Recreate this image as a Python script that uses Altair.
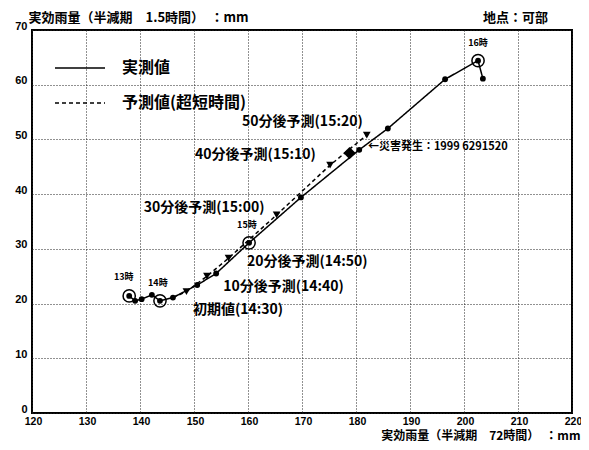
import altair as alt
import pandas as pd

# ---- data ----
actual_x = [138.0, 139.1, 140.3, 142.2, 143.7, 146.1, 150.6, 154.1, 160.2, 169.8, 180.6, 185.9, 196.5, 202.6, 203.5]
actual_y = [21.4, 20.5, 20.8, 21.6, 20.5, 21.1, 23.4, 25.5, 31.1, 39.4, 48.1, 52.0, 61.0, 64.4, 61.1]

pred_x = [146.1, 148.6, 152.4, 156.4, 165.3, 175.2, 182.0]
pred_y = [21.1, 22.2, 25.0, 28.3, 36.2, 45.3, 50.8]

diamond_x = [178.8]
diamond_y = [47.5]

hour_labels = ["13時", "14時", "15時", "16時"]
hour_x = [138.0, 143.7, 160.2, 202.6]
hour_y = [21.4, 20.5, 31.1, 64.4]
hour_label_x = [137.0, 143.3, 159.8, 202.6]
hour_label_y = [24.9, 23.7, 34.4, 67.6]

ann_labels = ["初期値(14:30)", "10分後予測(14:40)", "20分後予測(14:50)", "30分後予測(15:00)",
              "40分後予測(15:10)", "50分後予測(15:20)"]
ann_x = [149.8, 155.4, 159.8, 140.7, 150.2, 158.9]
ann_y = [18.8, 23.0, 27.6, 37.5, 47.2, 53.2]

event_label = ["←災害発生：1999  6291520"]
event_x = [182.2]
event_y = [48.7]

series_names = ["実測値", "予測値(超短時間)"]
x_ticks = list(range(120, 221, 10))
y_ticks = list(range(0, 71, 10))

FONT = "Noto Sans CJK JP"

# ---- tables ----
lines_df = pd.concat([
    pd.DataFrame({"x": actual_x, "y": actual_y, "series": series_names[0], "order": range(len(actual_x))}),
    pd.DataFrame({"x": pred_x, "y": pred_y, "series": series_names[1], "order": range(len(pred_x))}),
])
dots_df = pd.DataFrame({"x": actual_x, "y": actual_y})
tri_df = pd.DataFrame({"x": pred_x[1:], "y": pred_y[1:]})
dia_df = pd.DataFrame({"x": diamond_x, "y": diamond_y})
hour_df = pd.DataFrame({"x": hour_x, "y": hour_y})
hour_lab_df = pd.DataFrame({"x": hour_label_x, "y": hour_label_y, "t": hour_labels})
ann_df = pd.DataFrame({"x": ann_x, "y": ann_y, "t": ann_labels})
ev_df = pd.DataFrame({"x": event_x, "y": event_y, "t": event_label})

xscale = alt.Scale(domain=[120, 220], nice=False, zero=False)
yscale = alt.Scale(domain=[0, 70], nice=False)

X = alt.X("x:Q", scale=xscale, axis=alt.Axis(
    values=x_ticks, grid=True, gridDash=[1, 2], gridColor="#222", gridWidth=1,
    tickSize=0, domain=False, labelPadding=3, labelFontSize=10.5, labelFontWeight="bold",
    labelFont="Liberation Sans", labelColor="black", labelFlush=False, labelOverlap=False,
    labelOffset=1,
    title="実効雨量（半減期　72時間）　：mm", titleFont=FONT, titleFontSize=12,
    titleFontWeight="bold", titleColor="black", titleAlign="right", titleAnchor="end",
    titleX=548, titleY=22, titleBaseline="middle"))
Y = alt.Y("y:Q", scale=yscale, axis=alt.Axis(
    values=y_ticks, grid=True, gridDash=[1, 2], gridColor="#222", gridWidth=1,
    tickSize=0, domain=False, labelPadding=5, labelFontSize=11, labelFontWeight="bold",
    labelFont="Liberation Sans", labelColor="black", labelFlush=False, labelOverlap=False,
    labelOffset=-4,
    title="実効雨量（半減期　1.5時間）　：mm", titleFont=FONT, titleFontSize=13,
    titleFontWeight="bold", titleColor="black", titleAngle=0, titleAlign="left",
    titleX=-4, titleY=-13, titleBaseline="middle"))

lines = alt.Chart(lines_df).mark_line(color="black", strokeWidth=1.5).encode(
    x=X, y=Y, detail="series:N", order="order:Q",
    strokeDash=alt.StrokeDash("series:N", scale=alt.Scale(domain=series_names, range=[[1, 0], [4, 3]]), legend=None),
)
dots = alt.Chart(dots_df).mark_circle(size=34, color="black", opacity=1).encode(x="x:Q", y="y:Q")
tris = alt.Chart(tri_df).mark_point(shape="triangle-down", filled=True, size=60, color="black", opacity=1).encode(x="x:Q", y="y:Q")
dia = alt.Chart(dia_df).mark_point(shape="diamond", filled=True, size=150, color="black", opacity=1).encode(x="x:Q", y="y:Q")
rings = alt.Chart(hour_df).mark_point(shape="circle", filled=False, size=150, color="black", strokeWidth=1.5, opacity=1).encode(x="x:Q", y="y:Q")
hour_txt = alt.Chart(hour_lab_df).mark_text(font=FONT, fontSize=9, fontWeight="bold", color="black").encode(x="x:Q", y="y:Q", text="t:N")
ann_txt = alt.Chart(ann_df).mark_text(font=FONT, fontSize=14, fontWeight="bold", color="black", align="left", baseline="middle").encode(x="x:Q", y="y:Q", text="t:N")
ev_txt = alt.Chart(ev_df).mark_text(font=FONT, fontSize=11, fontWeight="bold", color="black", align="left", baseline="middle").encode(x="x:Q", y="y:Q", text="t:N")

# header text (site)
site = alt.Chart(pd.DataFrame({"t": ["地点：可部"]})).mark_text(
    font=FONT, fontSize=13, fontWeight="bold", color="black", align="right", baseline="middle"
).encode(x=alt.value(516), y=alt.value(-12), text="t:N")

# manual legend
leg1_line = alt.Chart(pd.DataFrame({"t": [series_names[0]]})).mark_rule(color="black", strokeWidth=1.5).encode(
    x=alt.value(23), x2=alt.value(73), y=alt.value(38))
leg2_line = alt.Chart(pd.DataFrame({"t": [series_names[1]]})).mark_rule(color="black", strokeWidth=1.5, strokeDash=[4, 3]).encode(
    x=alt.value(23), x2=alt.value(73), y=alt.value(73))
leg1_txt = alt.Chart(pd.DataFrame({"t": [series_names[0]]})).mark_text(
    font=FONT, fontSize=16, fontWeight="bold", color="black", align="left", baseline="middle"
).encode(x=alt.value(90), y=alt.value(38), text="t:N")
leg2_txt = alt.Chart(pd.DataFrame({"t": [series_names[1]]})).mark_text(
    font=FONT, fontSize=16, fontWeight="bold", color="black", align="left", baseline="middle"
).encode(x=alt.value(90), y=alt.value(73), text="t:N")

chart = alt.layer(
    lines, dots, tris, dia, rings, hour_txt, ann_txt, ev_txt, site,
    leg1_line, leg2_line, leg1_txt, leg2_txt
).properties(
    width=540, height=383,
    autosize=alt.AutoSizeParams(type="none"),
    padding={"left": 24, "top": 22, "right": 9, "bottom": 29},
    background="white",
).configure_view(stroke="black", strokeWidth=2)

chart.save("out.html", embed_options={"renderer": "svg", "actions": False})
